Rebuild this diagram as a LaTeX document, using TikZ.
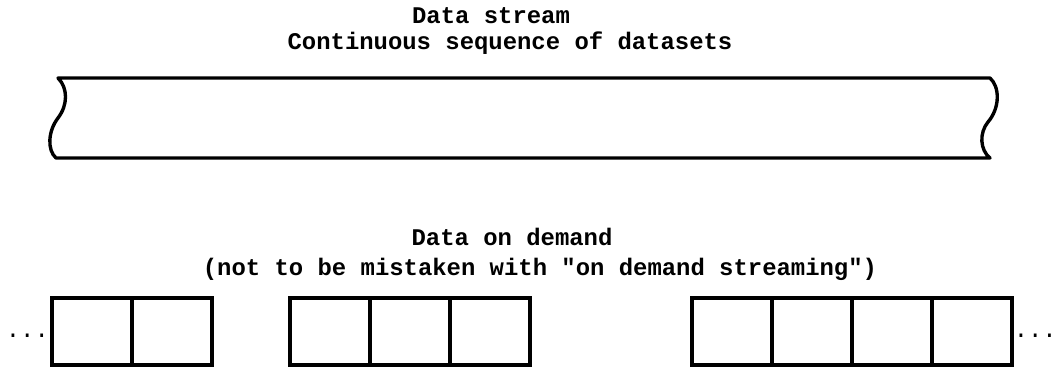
\documentclass[tikz,border=0pt]{standalone}
\usepackage{fontspec}
\setmonofont{Liberation Mono}
\usetikzlibrary{positioning}

\tikzset{
  lbl/.style={font=\ttfamily\bfseries\fontsize{17}{20}\selectfont, inner sep=0pt, anchor=base},
  dots/.style={font=\ttfamily\fontsize{17}{20}\selectfont, inner sep=0pt, yshift=-3pt},
  cell/.style={draw, line width=2.4pt, minimum width=2cm, minimum height=1.675cm, outer sep=0pt, inner sep=0pt}
}

\begin{document}
\begin{tikzpicture}[x=0.025cm, y=-0.025cm]

\useasboundingbox (0,0) rectangle (1056,367);

\node[lbl] (stream) at (491,24) {Data stream};
\node[lbl] (streamsub) at (510,50) {Continuous sequence of datasets};

\draw [line width=2.4pt, line join=round]
  (58,78) -- (990,78)
  .. controls (1000,87) and (1000,108) .. (988,122)
  .. controls (979,133) and (980,150) .. (990,158)
  -- (56,158)
  .. controls (47,150) and (48,131) .. (58,118)
  .. controls (68,105) and (68,88) .. (58,78) -- cycle;

\node[lbl] (demand) at (512,245) {Data on demand};
\node[lbl] (demandsub) at (540,275) {(not to be mistaken with "on demand streaming")};

\node[cell] (a1) at (92,331.5) {};
\node[cell, right=0pt of a1] (a2) {};

\node[cell] (b1) at (330,331.5) {};
\node[cell, right=0pt of b1] (b2) {};
\node[cell, right=0pt of b2] (b3) {};

\node[cell] (c1) at (732,331.5) {};
\node[cell, right=0pt of c1] (c2) {};
\node[cell, right=0pt of c2] (c3) {};
\node[cell, right=0pt of c3] (c4) {};

\node[dots, left=2pt of a1] (ldots) {...};
\node[dots, right=1pt of c4] (rdots) {...};

\end{tikzpicture}
\end{document}
